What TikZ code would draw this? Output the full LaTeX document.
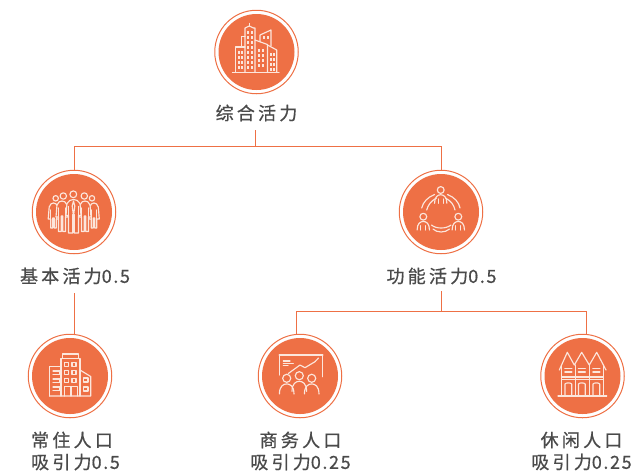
\documentclass[tikz,border=0pt]{standalone}
\usepackage{fontspec}
\setmainfont{Noto Sans CJK SC}[LetterSpace=18,FakeBold=0.7]
\newcommand{\dg}[1]{{\addfontfeature{LetterSpace=9}#1}}
\definecolor{org}{HTML}{EE7045}
\definecolor{icn}{HTML}{FCE6DC}
\definecolor{txt}{HTML}{4A4A4A}
\tikzset{
  outer/.style={circle,draw=org,line width=1pt,fill=white,minimum size=83.5pt,inner sep=0pt},
  disc/.style={circle,fill=org,minimum size=76pt,inner sep=0pt},
  lab/.style={text=txt,font=\fontsize{18pt}{22pt}\selectfont,align=center,inner sep=0pt},
  conn/.style={draw=org,line width=0.8pt},
  ic/.style={draw=icn,line width=1.15pt,line join=round,line cap=round},
  icf/.style={draw=icn,line width=1.6pt,line cap=round}
}
\newcommand{\person}[3]{% x y scale
  \draw[ic] (#1,#2) circle ({3.6*#3});
  \draw[ic] ({#1-6.5*#3},{#2+14*#3}) .. controls ({#1-6.5*#3},{#2+7*#3}) and ({#1-3*#3},{#2+5*#3}) .. (#1,{#2+5*#3}) .. controls ({#1+3*#3},{#2+5*#3}) and ({#1+6.5*#3},{#2+7*#3}) .. ({#1+6.5*#3},{#2+14*#3});
}
\newcommand{\crowdfig}[4]{% x top halfwidth bottom
  \path[fill=org,ic] ({#1-#3},#2+4) .. controls ({#1-#3+1},#2+1) and ({#1-2},#2) .. (#1,#2)
    .. controls ({#1+2},#2) and ({#1+#3-1},#2+1) .. ({#1+#3},#2+4)
    -- ({#1+#3+1},#2+16) -- ({#1+#3-1.5},#2+16) -- ({#1+#3-1.5},#4) -- ({#1+0.7},#4) -- ({#1+0.7},#2+15)
    -- ({#1-0.7},#2+15) -- ({#1-0.7},#4) -- ({#1-#3+1.5},#4) -- ({#1-#3+1.5},#2+16) -- ({#1-#3-1},#2+16) -- cycle;
  \draw[ic] ({#1-#3+1.5},#2+7) -- ({#1-#3+1.5},#2+16);
  \draw[ic] ({#1+#3-1.5},#2+7) -- ({#1+#3-1.5},#2+16);
}
\begin{document}
\begin{tikzpicture}[x=1pt,y=-1pt]
\useasboundingbox (0,0) rectangle (636,475);
% circles
\foreach \n/\x/\y in {top/256.5/52,basic/74/212,func/441/212,res/70/376,biz/300/376,leis/582.5/376}{
  \node[outer] (\n) at (\x,\y) {};
  \node[disc] (\n d) at (\x,\y) {};
}
% labels
\node[lab] (topl) at (256.5,113) {综合活力};
\node[lab] (basicl) at (75,276) {基本活力\dg{0.5}};
\node[lab] (funcl) at (441.5,276) {功能活力\dg{0.5}};
\node[lab,align=left] (resl) at (75.5,451) {常住人口\\吸引力\dg{0.5}};
\node[lab] (bizl) at (300.5,451) {商务人口\\吸引力\dg{0.25}};
\node[lab] (leisl) at (581.5,451) {休闲人口\\吸引力\dg{0.25}};
% connectors
\coordinate (t1) at (255,130);
\coordinate (j0) at (255,146);
\coordinate (j1) at (74,146);
\coordinate (j2) at (441,146);
\draw[conn] (t1) -- (j0);
\draw[conn] (basic.north) -- (j1) -- (j2) -- (func.north);
\coordinate (b0) at (74,293);
\coordinate (b1) at (74,334.5);
\draw[conn] (b0) -- (b1);
\coordinate (f0) at (441,291);
\coordinate (f1) at (441,311);
\coordinate (f2) at (296,311);
\coordinate (f3) at (586,311);
\coordinate (f4) at (296,334.5);
\coordinate (f5) at (586,335);
\draw[conn] (f0) -- (f1);
\draw[conn] (f4) -- (f2) -- (f3) -- (f5);
% --- top icon: skyscrapers
\draw[ic] (232.5,72.3) -- (279,72.3);
\draw[ic] (235.5,72) -- (235.5,47) -- (245,47);
\draw[ic] (241.7,47) -- (241.7,36.5) -- (245,36.5);
\draw[ic] (245,72) -- (245,28) -- (249.3,26) -- (253.5,28) -- (255,28) -- (255,40);
\draw[ic] (249.3,26) -- (249.3,23.5);
\draw[ic] (255,72) -- (255,40) -- (267.5,44.5) -- (267.5,72);
\draw[ic] (260,41.8) -- (260,35) -- (271,30) -- (271,46);
\draw[ic] (267.5,45) -- (276.7,50) -- (276.7,72);
\foreach \yy in {51,56,61,66}{\foreach \xx in {237.5,241}{\fill[icn] (\xx,\yy) rectangle +(2.3,3);}}
\foreach \yy in {31,36,41,46,51,56,61,66}{\foreach \xx in {247,250.8}{\fill[icn] (\xx,\yy) rectangle +(2.3,3);}}
\foreach \yy in {49,54,59,64}{\foreach \xx in {257.5,262}{\fill[icn] (\xx,\yy) rectangle +(2.3,3);}}
\foreach \yy in {53,58,63,68}{\foreach \xx in {269.7,273}{\fill[icn] (\xx,\yy) rectangle +(2.1,3);}}
\foreach \xx in {263,266.5}{\fill[icn] (\xx,36) rectangle +(2,2.6);}
% --- crowd icon
\foreach \xx/\yy/\r in {55.7/198.3/2.7,63.3/196/3.2,73.3/194.3/3.4,84.3/196/3.2,92/198.3/2.7}{\draw[ic] (\xx,\yy) circle (\r);}
\crowdfig{53.5}{203}{4.3}{228}
\crowdfig{94}{203}{4.3}{228}
\crowdfig{62}{201}{5}{231.5}
\crowdfig{85}{201}{5}{231.5}
\crowdfig{73.5}{199.5}{6.5}{233}
\draw[ic] (73.5,201) -- (72.2,206) -- (73.5,216) -- (74.8,206) -- cycle;
% --- meeting icon
\person{440.7}{190}{0.95}
\person{423.3}{216.7}{0.95}
\person{458.3}{216.7}{0.95}
\foreach \xx in {-2.5,2.5}{
  \draw[ic] (440.7+\xx,199) -- (440.7+\xx,203.3);
  \draw[ic] (423.3+\xx,225.7) -- (423.3+\xx,230);
  \draw[ic] (458.3+\xx,225.7) -- (458.3+\xx,230);
}
\draw[ic] (421.7,208) .. controls (423,202) and (428,197) .. (434.5,194.5);
\draw[ic] (426.7,210) .. controls (428,205) and (431,201) .. (436.5,198);
\draw[ic] (460,208) .. controls (459,202) and (454,197) .. (447.5,194.5);
\draw[ic] (455,210) .. controls (454,205) and (451,201) .. (445.5,198);
\draw[ic] (431.5,225) .. controls (436,229) and (446,229) .. (451,225);
\draw[ic] (433,229) .. controls (437,233) and (445,233) .. (449.5,229);
% --- residential building icon
\draw[ic] (49.5,396) -- (49.5,366.5) -- (61,366.5);
\draw[ic] (61,396) -- (61,358.5) -- (80,358.5) -- (80,396);
\draw[ic] (62.7,358) -- (62.7,354) -- (78.3,354) -- (78.3,358);
\draw[ic] (49.5,396) -- (90.7,396) -- (90.7,376.5) -- (80,370);
\foreach \yy in {362.5,370.5,378.3}{\foreach \xx in {64.5,72}{\draw[ic] (\xx,\yy) rectangle +(4,4);}}
\draw[ic] (64.5,396) -- (64.5,386.7) -- (77.3,386.7) -- (77.3,396);
\draw[ic] (71,386.7) -- (71,396);
\foreach \yy in {371,379,387}{\draw[ic] (53,\yy) -- (60,\yy) -- (60,\yy+3.5) -- (53,\yy+3.5);}
\foreach \yy in {378,387}{\draw[ic] (83.5,\yy) rectangle +(4.5,4);}
% --- business icon
\draw[ic] (279.3,375) -- (279.3,355);
\draw[ic] (322.7,376.7) -- (322.7,355);
\draw[icf] (279.3,355) -- (322.7,355);
\draw[ic] (283.3,361) -- (290,361);
\draw[ic] (283.3,363.3) -- (293.3,363.3);
\draw[ic] (283.3,365.5) -- (288,365.5);
\draw[ic] (288.3,373.5) -- (300,365) -- (305,367.7) -- (315,361.7) -- (318.5,358);
\person{286.7}{378.3}{1.12}
\person{299.3}{375.7}{1.12}
\person{311.7}{378.3}{1.12}
% --- townhouse icon
\draw[ic] (558,396) -- (606.7,396);
\draw[ic] (559.3,370) -- (567.3,352.3) -- (574.3,365) -- (581.7,352.3) -- (589.3,365) -- (596.7,352.3) -- (606,370);
\draw[ic] (561.7,366) -- (561.7,396);
\draw[ic] (603.3,366) -- (603.3,396);
\draw[ic] (575.7,365) -- (575.7,396);
\draw[ic] (589.3,365) -- (589.3,396);
\draw[ic] (561.7,377) -- (603.3,377);
\draw[ic] (561.7,379.5) -- (603.3,379.5);
\foreach \xx in {565,578.5,593}{
  \draw[icf] (\xx,368.5) -- (\xx+6.7,368.5);
  \draw[icf] (\xx,372) -- (\xx+6.7,372);
  \draw[ic] (\xx,396) -- (\xx,384) .. controls (\xx+1,382.5) and (\xx+5.7,382.5) .. (\xx+6.7,384) -- (\xx+6.7,396);
}
\end{tikzpicture}
\end{document}
